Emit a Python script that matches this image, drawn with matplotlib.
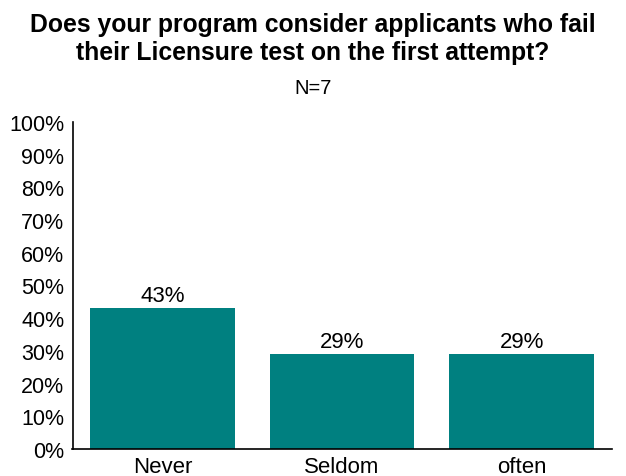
import matplotlib
matplotlib.use("Agg")
import matplotlib.pyplot as plt

categories = ["Never", "Seldom", "often"]
values = [43, 29, 29]
value_labels = ["43%", "29%", "29%"]
yticks = [0, 10, 20, 30, 40, 50, 60, 70, 80, 90, 100]
ytick_labels = [f"{t}%" for t in yticks]

plt.rcParams['font.family'] = ['Liberation Sans', 'DejaVu Sans']

fig = plt.figure(figsize=(6.26, 4.77), dpi=100)
ax = fig.add_axes([72.5/626, 27/477, 539/626, 327/477])
x = range(len(categories))
bars = ax.bar(x, values, width=0.806, color="#008080")
for i, (v, lab) in enumerate(zip(values, value_labels)):
    ax.text(i, v + 0.6, lab, ha="center", va="bottom", fontsize=16)
ax.set_xlim(-0.5, 2.5)
ax.set_ylim(0, 100)
ax.set_yticks(yticks)
ax.set_yticklabels(ytick_labels, fontsize=15.5)
ax.set_xticks(list(x))
ax.set_xticklabels(categories, fontsize=16)
ax.tick_params(axis="y", length=0, pad=6)
ax.tick_params(axis="x", length=0, pad=5)
for s in ["top", "right"]:
    ax.spines[s].set_visible(False)
for s in ["left", "bottom"]:
    ax.spines[s].set_linewidth(1.2)
fig.text(0.5, 1 - 39/477, "Does your program consider applicants who fail\ntheir Licensure test on the first attempt?",
         ha="center", va="center", fontsize=17.8, fontweight="bold", linespacing=1.22)
fig.text(0.5, 1 - 88/477, "N=7", ha="center", va="center", fontsize=14.5)
fig.savefig("out.png", dpi=100)
